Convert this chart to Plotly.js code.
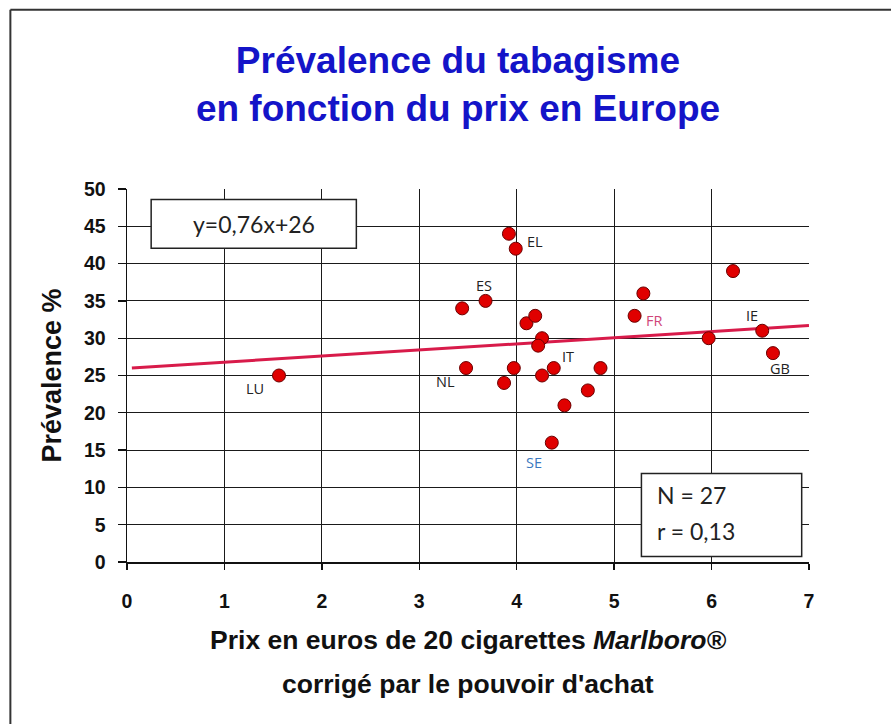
<!DOCTYPE html>
<html>
<head>
<meta charset="utf-8">
<script src="https://cdn.plot.ly/plotly-3.0.1.min.js"></script>
<style>
html,body{margin:0;padding:0;background:#fff;}
#chart{width:891px;height:724px;}
</style>
</head>
<body>
<div id="chart"></div>
<script>
// Price of 20 Marlboro (euros, purchasing-power corrected) and smoking prevalence (%)
const prix = [1.56, 3.44, 3.48, 3.68, 3.92, 3.99, 3.87, 3.97, 4.10, 4.19, 4.26, 4.22, 4.26, 4.38, 4.49, 4.36, 4.73, 4.86, 5.21, 5.30, 5.97, 6.22, 6.52, 6.63];
const prevalence = [25, 34, 26, 35, 44, 42, 24, 26, 32, 33, 30, 29, 25, 26, 21, 16, 23, 26, 33, 36, 30, 39, 31, 28];

// Regression line y = 0.76x + 26 (end points)
const trendX = [0.05, 7];
const trendY = [26.0, 31.7];

// Country labels
const countryCodes = ["LU", "NL", "ES", "EL", "IT", "SE", "FR", "IE", "GB"];
const countryLabelX = [1.31, 3.27, 3.66, 4.19, 4.53, 4.18, 5.41, 6.42, 6.70];
const countryLabelY = [23.3, 24.2, 37.0, 43.0, 27.6, 13.4, 32.4, 33.1, 25.9];
const countryLabelColor = ["#222", "#222", "#222", "#222", "#222", "#3a78c0", "#d0457a", "#222", "#222"];

// Tick labels
const xTicks = [0, 1, 2, 3, 4, 5, 6, 7];
const yTicks = [0, 5, 10, 15, 20, 25, 30, 35, 40, 45, 50];

const tickFont = {family: "Liberation Sans, Arial, sans-serif", size: 19.5, color: "#111", weight: "bold"};
const axisTitleFont = {family: "Liberation Sans, Arial, sans-serif", size: 26.5, color: "#111", weight: "bold"};
const boxFont = {family: "Lato, Open Sans, sans-serif", size: 23, color: "#222"};

const annotations = countryCodes.map((c, i) => ({
  x: countryLabelX[i], y: countryLabelY[i], xref: "x", yref: "y",
  text: c, showarrow: false,
  font: {family: "Open Sans, Lato, sans-serif", size: 14.5, color: countryLabelColor[i]}
}));

annotations.push({
  x: 1.30, y: 45.35, xref: "x", yref: "y", text: "y=0,76x+26", showarrow: false,
  font: boxFont
});
annotations.push({
  x: 5.42, y: 9.0, xref: "x", yref: "y", xanchor: "left", text: "N = 27", showarrow: false,
  font: boxFont
});
annotations.push({
  x: 5.42, y: 4.2, xref: "x", yref: "y", xanchor: "left", text: "r = 0,13", showarrow: false,
  font: boxFont
});
// second line of the x-axis title
annotations.push({
  x: 0.4995, y: -0.326, xref: "paper", yref: "paper", yanchor: "middle",
  text: "corrigé par le pouvoir d'achat", showarrow: false,
  font: axisTitleFont
});

const shapes = [
  {type: "rect", xref: "x", yref: "y", x0: 0.248, x1: 2.354, y0: 42.05, y1: 48.6,
   fillcolor: "#fff", line: {color: "#222", width: 1.5}, layer: "above"},
  {type: "rect", xref: "x", yref: "y", x0: 5.28, x1: 6.925, y0: 0.75, y1: 11.85,
   fillcolor: "#fff", line: {color: "#222", width: 1.5}, layer: "above"},
  // outer frame (top and left)
  {type: "line", xref: "paper", yref: "paper", x0: -0.171, x1: 1.2, y0: 1.4804, y1: 1.4804,
   line: {color: "#333", width: 2}},
  {type: "line", xref: "paper", yref: "paper", x0: -0.171, x1: -0.171, y0: 1.4804, y1: -0.5,
   line: {color: "#333", width: 2}}
];

const traces = [
  {x: trendX, y: trendY, type: "scatter", mode: "lines",
   line: {color: "#d81b4a", width: 3}, hoverinfo: "skip"},
  {x: prix, y: prevalence, type: "scatter", mode: "markers",
   marker: {color: "#e00000", size: 13, line: {color: "#6a0000", width: 1}}}
];

const layout = {
  width: 891, height: 724,
  paper_bgcolor: "#fff", plot_bgcolor: "#fff",
  showlegend: false,
  margin: {l: 126.5, r: 82, t: 189, b: 162.4, pad: 0},
  title: {
    text: "Prévalence du tabagisme<br>en fonction du prix en Europe",
    font: {family: "Liberation Sans, Arial, sans-serif", size: 37, color: "#1414c8", weight: "bold"},
    x: 0.514, xref: "container", xanchor: "center",
    y: 1 - 73 / 724, yref: "container", yanchor: "middle"
  },
  xaxis: {
    range: [0, 7], tickvals: xTicks, ticktext: xTicks.map(String),
    showgrid: true, gridcolor: "#1a1a1a", gridwidth: 1.2,
    zeroline: false, showline: true, linecolor: "#111", linewidth: 1.5,
    ticks: "outside", ticklen: 6, tickcolor: "#111", tickwidth: 1.3,
    ticklabelstandoff: 15,
    tickfont: tickFont,
    title: {text: "Prix en euros de 20 cigarettes <i>Marlboro®</i>",
            font: axisTitleFont, standoff: 19}
  },
  yaxis: {
    range: [0, 50], tickvals: yTicks, ticktext: yTicks.map(String),
    showgrid: true, gridcolor: "#1a1a1a", gridwidth: 1.2,
    zeroline: false, showline: true, linecolor: "#111", linewidth: 1.5,
    ticks: "outside", ticklen: 8, tickcolor: "#111", tickwidth: 1.3,
    ticklabelstandoff: 8,
    tickfont: tickFont,
    title: {text: "Prévalence %", font: Object.assign({}, axisTitleFont, {size: 27}), standoff: 14}
  },
  annotations: annotations,
  shapes: shapes
};

Plotly.newPlot("chart", traces, layout, {displayModeBar: false, staticPlot: true});
</script>
</body>
</html>
